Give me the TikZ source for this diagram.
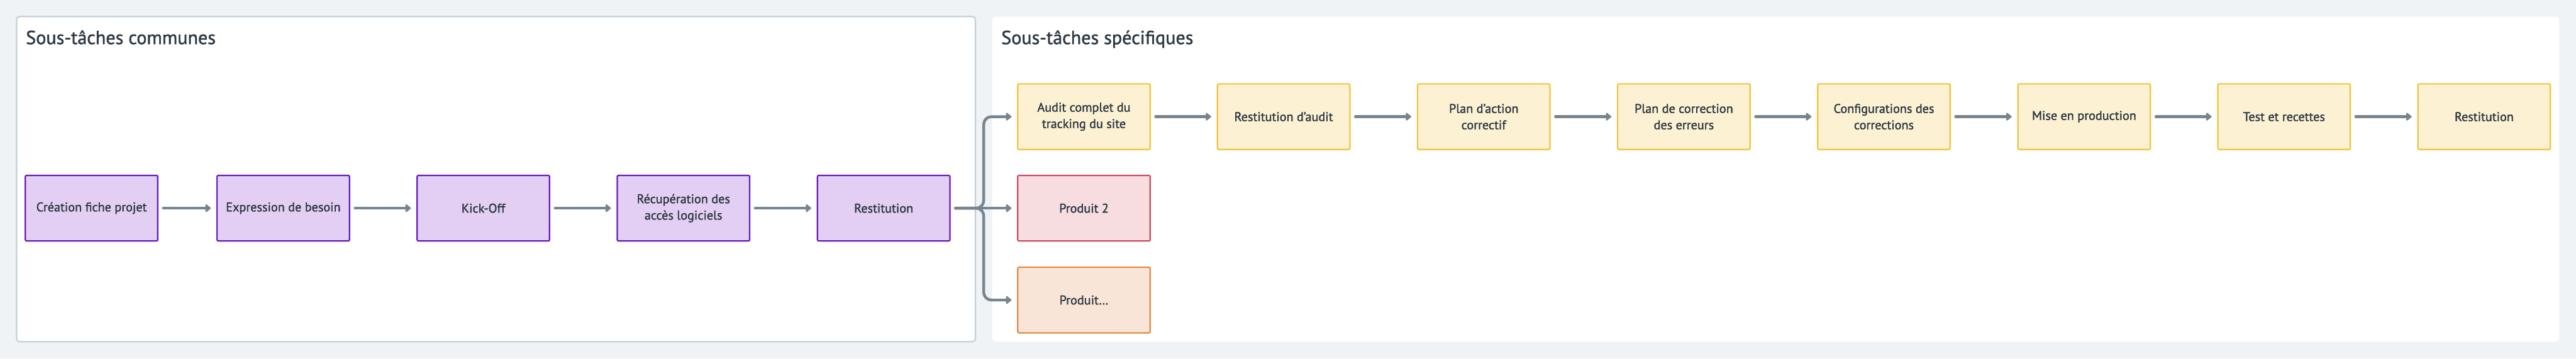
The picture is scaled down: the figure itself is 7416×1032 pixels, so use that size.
\documentclass[tikz,border=0pt]{standalone}
\usepackage{fontspec}
\setmainfont{PT Sans}[FakeBold=1.4]
\usetikzlibrary{arrows.meta}
\definecolor{bgc}{HTML}{EFF3F6}
\definecolor{panelline}{HTML}{C5D0D9}
\definecolor{txt}{HTML}{2B3742}
\definecolor{arrc}{HTML}{76858F}
\definecolor{purpD}{HTML}{6A17B8}
\definecolor{purpL}{HTML}{E3CFF3}
\definecolor{yelD}{HTML}{F2C43B}
\definecolor{yelL}{HTML}{FCF1D2}
\definecolor{redD}{HTML}{CC4B5E}
\definecolor{redL}{HTML}{F7DCE0}
\definecolor{orD}{HTML}{E08A45}
\definecolor{orL}{HTML}{F9E5D8}
\tikzset{
  taskbox/.style={draw, line width=1.14pt, rounded corners=0.04cm, minimum width=3.81cm, minimum height=1.89cm, inner sep=0pt, align=center, text=txt, font=\fontsize{10.4}{13.4}\selectfont},
  purplebox/.style={taskbox, draw=purpD, fill=purpL},
  yellowbox/.style={taskbox, draw=yelD, fill=yelL},
  redbox/.style={taskbox, draw=redD, fill=redL},
  orangebox/.style={taskbox, draw=orD, fill=orL},
  flow/.style={draw=arrc, line width=2.28pt, line cap=round, -{Triangle[length=0.17cm, width=0.26cm, round]}, shorten <=0.14cm, shorten >=0.16cm},
  paneltitle/.style={anchor=base west, inner sep=0pt, text=txt, font=\fontsize{15.5}{18}\selectfont}
}
\begin{document}
\begin{tikzpicture}[x=0.01cm, y=-0.01cm]
\useasboundingbox (0,0) rectangle (7416,1032);
\fill[bgc] (0,0) rectangle (7416,1032);
% panels
\draw[fill=white, draw=panelline, line width=1.14pt, rounded corners=0.08cm] (48,47.5) rectangle (2808,984);
\fill[white, rounded corners=0.08cm] (2857,48) rectangle (7367,984);
\node[paneltitle] (t1) at (74,127) {Sous-tâches communes};
\node[paneltitle] (t2) at (2882,127) {Sous-tâches spécifiques};
% common tasks
\node[purplebox] (c1) at (263.5,599.5) {Création fiche projet};
\node[purplebox] (c2) at (815.5,599.5) {Expression de besoin};
\node[purplebox] (c3) at (1391.5,599.5) {Kick-Off};
\node[purplebox] (c4) at (1967.5,599.5) {Récupération des\\accès logiciels};
\node[purplebox] (c5) at (2544,599.5) {Restitution};
% specific tasks
\node[yellowbox] (s1) at (3120.5,336) {Audit complet du\\tracking du site};
\node[yellowbox] (s2) at (3695.5,336) {Restitution d'audit};
\node[yellowbox] (s3) at (4271.5,336) {Plan d'action\\correctif};
\node[yellowbox] (s4) at (4847.5,336) {Plan de correction\\des erreurs};
\node[yellowbox] (s5) at (5423.5,336) {Configurations des\\corrections};
\node[yellowbox] (s6) at (6000,336) {Mise en production};
\node[yellowbox] (s7) at (6575.5,336) {Test et recettes};
\node[yellowbox] (s8) at (7151.5,336) {Restitution};
\node[redbox] (p2) at (3120.5,599.5) {Produit 2};
\node[orangebox] (p3) at (3120.5,864) {Produit…};
% arrows
\draw[flow] (c1) -- (c2);
\draw[flow] (c2) -- (c3);
\draw[flow] (c3) -- (c4);
\draw[flow] (c4) -- (c5);
\coordinate (br) at (2832,599.5);
\draw[flow, rounded corners=0.22cm] (c5.east) -- (br) |- (s1.west);
\draw[flow] (c5.east) -- (p2.west);
\draw[flow, rounded corners=0.22cm] (c5.east) -- (br) |- (p3.west);
\draw[flow] (s1) -- (s2);
\draw[flow] (s2) -- (s3);
\draw[flow] (s3) -- (s4);
\draw[flow] (s4) -- (s5);
\draw[flow] (s5) -- (s6);
\draw[flow] (s6) -- (s7);
\draw[flow] (s7) -- (s8);
\end{tikzpicture}
\end{document}
